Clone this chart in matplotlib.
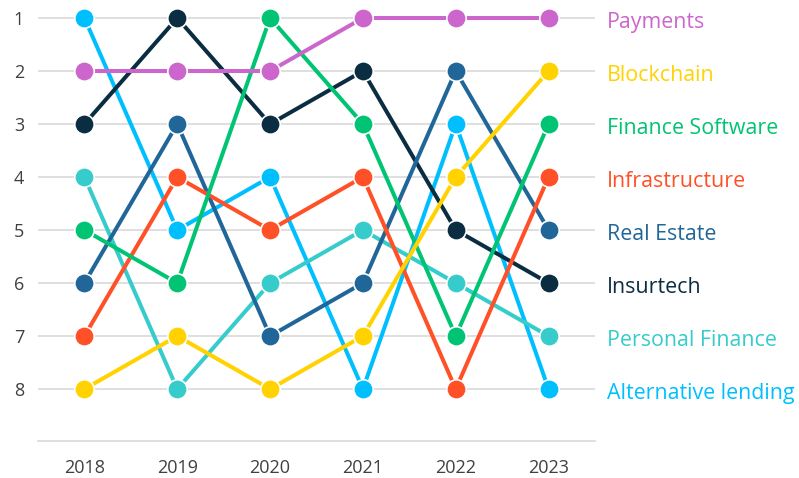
import numpy as np
from matplotlib import pyplot as plt

years = [2018, 2019, 2020, 2021, 2022, 2023]

payments = [2, 2, 2, 1, 1, 1]
blockchain = [8, 7, 8, 7, 4, 2]
finance_software = [5, 6, 1, 3, 7, 3]
infrastructure = [7, 4, 5, 4, 8, 4]
real_estate = [6, 3, 7, 6, 2, 5]
insurtech = [3, 1, 3, 2, 5, 6]
personal_finance = [4, 8, 6, 5, 6, 7]
alt_lending = [1, 5, 4, 8, 3, 8]

names = ["Payments", "Blockchain", "Finance Software", "Infrastructure",
         "Real Estate", "Insurtech", "Personal Finance", "Alternative lending"]
series = [payments, blockchain, finance_software, infrastructure,
          real_estate, insurtech, personal_finance, alt_lending]
colors = ["#CC66CC", "#FFD200", "#00C473", "#FF5028",
          "#216699", "#0B2D42", "#36CCCC", "#00BFFF"]

plt.rcParams['font.family'] = ['Open Sans', 'DejaVu Sans']

fig = plt.figure(figsize=(7.99, 4.78), dpi=100)
ax = fig.add_axes([38/799, 1 - 441/478, (595 - 38)/799, 441/478])

# draw in reverse so Payments ends up on top
for name, ranks, c in reversed(list(zip(names, series, colors))):
    ax.plot(years, ranks, color=c, lw=2.9, marker='o', ms=14,
            mec='white', mew=1.2, solid_capstyle='round', zorder=3)

for name, ranks, c in zip(names, series, colors):
    ax.annotate(name, (years[-1], ranks[-1]), xytext=(42, -3),
                textcoords='offset points', va='center', ha='left',
                color=c, fontsize=15.4, annotation_clip=False)

ax.set_xlim(2017.5, 2023.5)
ax.set_ylim(8.98, 0.66)
ax.set_yticks(range(1, 9))
ax.set_xticks(years)
ax.grid(axis='y', color='#d9d9d9', lw=1.2, zorder=0)
ax.tick_params(length=0, labelsize=13, labelcolor='#404040')
ax.tick_params(axis='x', pad=13)
ax.tick_params(axis='y', pad=10)
for s in ['top', 'right', 'left']:
    ax.spines[s].set_visible(False)
ax.spines['bottom'].set_color('#d9d9d9')
ax.spines['bottom'].set_linewidth(1.2)

fig.savefig('out.png', dpi=100)
